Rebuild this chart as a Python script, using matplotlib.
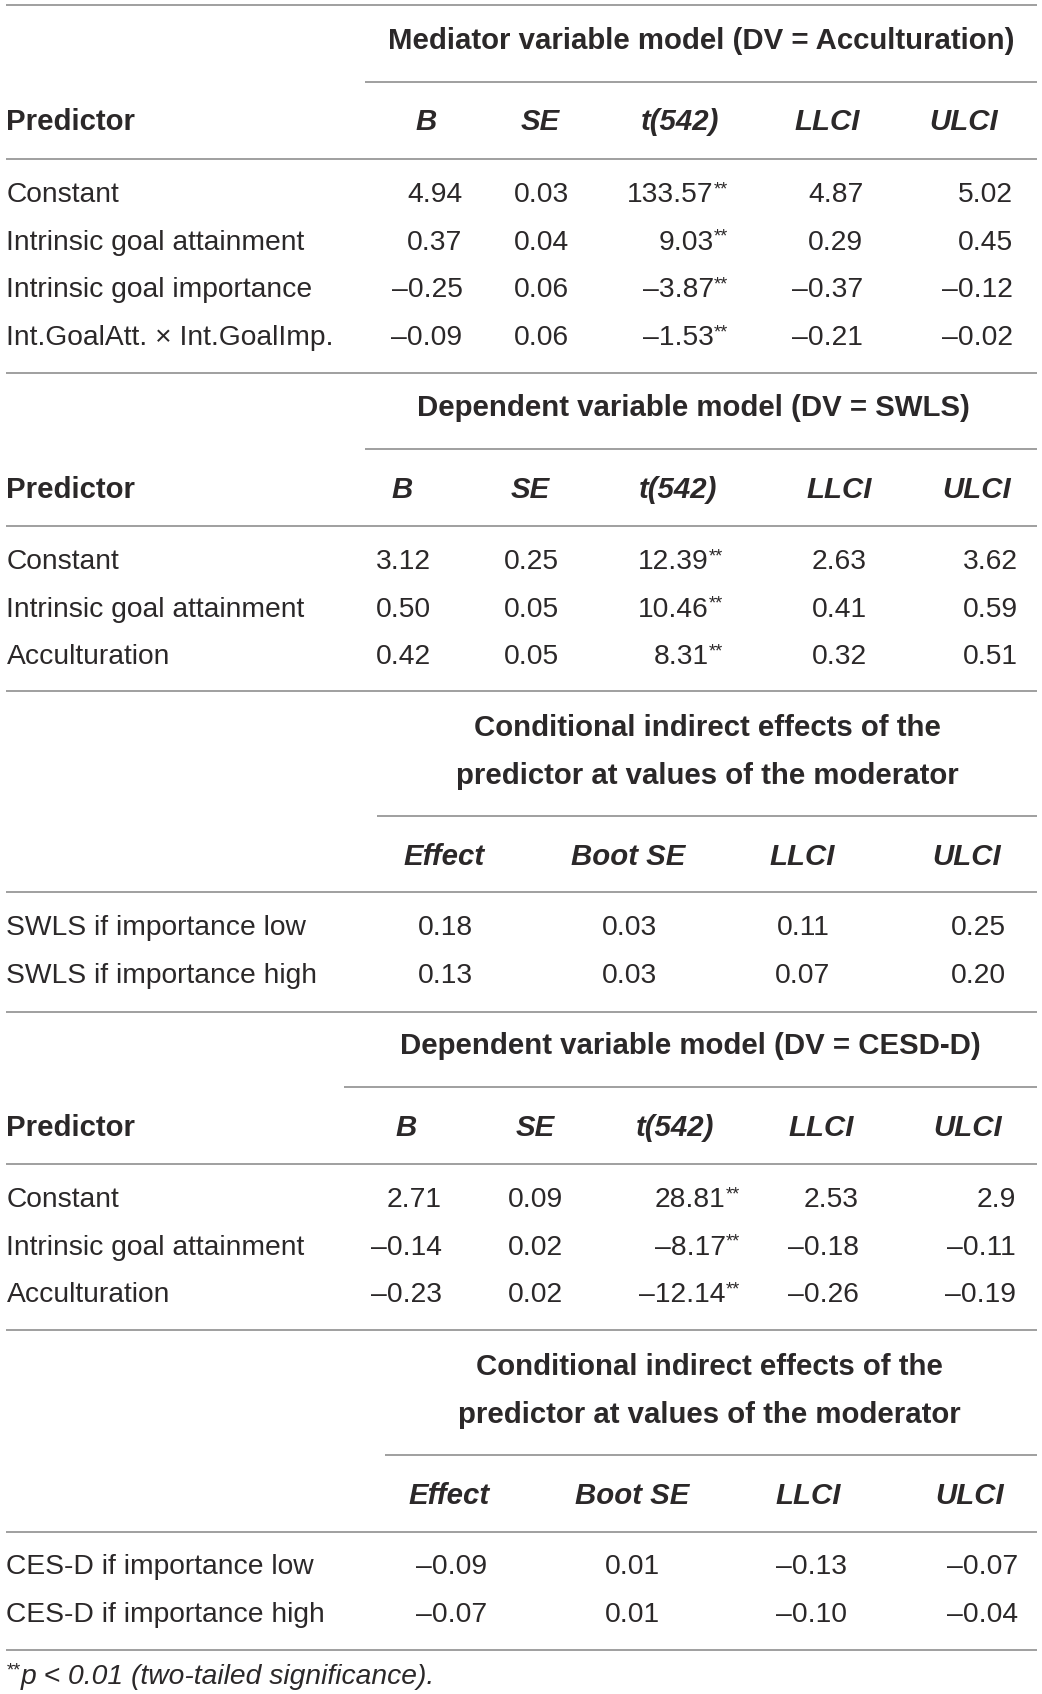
import matplotlib
matplotlib.use("Agg")
import matplotlib.pyplot as plt

plt.rcParams['font.family'] = ['Liberation Sans', 'DejaVu Sans']

# ---- table data ----
med_title = "Mediator variable model (DV = Acculturation)"
med_heads = ["B", "SE", "t(542)", "LLCI", "ULCI"]
med_rows = ["Constant", "Intrinsic goal attainment", "Intrinsic goal importance",
            "Int.GoalAtt. \u00d7 Int.GoalImp."]
med_B = ["4.94", "0.37", "\u20130.25", "\u20130.09"]
med_SE = ["0.03", "0.04", "0.06", "0.06"]
med_t = ["133.57", "9.03", "\u20133.87", "\u20131.53"]
med_LL = ["4.87", "0.29", "\u20130.37", "\u20130.21"]
med_UL = ["5.02", "0.45", "\u20130.12", "\u20130.02"]

swls_title = "Dependent variable model (DV = SWLS)"
swls_rows = ["Constant", "Intrinsic goal attainment", "Acculturation"]
swls_B = ["3.12", "0.50", "0.42"]
swls_SE = ["0.25", "0.05", "0.05"]
swls_t = ["12.39", "10.46", "8.31"]
swls_LL = ["2.63", "0.41", "0.32"]
swls_UL = ["3.62", "0.59", "0.51"]

cond_title = ["Conditional indirect effects of the", "predictor at values of the moderator"]
cond_heads = ["Effect", "Boot SE", "LLCI", "ULCI"]
cond1_rows = ["SWLS if importance low", "SWLS if importance high"]
cond1_eff = ["0.18", "0.13"]
cond1_se = ["0.03", "0.03"]
cond1_LL = ["0.11", "0.07"]
cond1_UL = ["0.25", "0.20"]

cesd_title = "Dependent variable model (DV = CESD-D)"
cesd_rows = ["Constant", "Intrinsic goal attainment", "Acculturation"]
cesd_B = ["2.71", "\u20130.14", "\u20130.23"]
cesd_SE = ["0.09", "0.02", "0.02"]
cesd_t = ["28.81", "\u20138.17", "\u201312.14"]
cesd_LL = ["2.53", "\u20130.18", "\u20130.26"]
cesd_UL = ["2.9", "\u20130.11", "\u20130.19"]

cond2_rows = ["CES-D if importance low", "CES-D if importance high"]
cond2_eff = ["\u20130.09", "\u20130.07"]
cond2_se = ["0.01", "0.01"]
cond2_LL = ["\u20130.13", "\u20130.10"]
cond2_UL = ["\u20130.07", "\u20130.04"]

footnote = "p < 0.01 (two-tailed significance)."

# ---- drawing ----
W, H = 962, 1564
fig = plt.figure(figsize=(10.42, 16.94), dpi=100)
ax = fig.add_axes([0, 0, 1, 1])
ax.set_xlim(0, W)
ax.set_ylim(H, 0)
ax.axis("off")

TXT = "#2b2829"
LN = "#8f8f8f"
FS = 20.3
FT = 21.2
XR = 957


def hline(y, x0=6):
    ax.plot([x0, XR], [y, y], color=LN, lw=1.2, solid_capstyle="butt")


def body(x, y, s, ha="right"):
    ax.text(x, y, s, fontsize=FS, color=TXT, ha=ha, va="center")


def stars(x, y):
    ax.text(x, y - 5, "**", fontsize=FS * 0.65, color=TXT, ha="left", va="center")


def title(x, y, s):
    ax.text(x, y, s, fontsize=FT, fontweight="bold", color=TXT, ha="center", va="center")


def head(x, y, s):
    ax.text(x, y, s, fontsize=FT, fontweight="bold", style="italic", color=TXT,
            ha="center", va="center")


def model_block(y0, ttl, tx, x0line, rows, cols, heads_x, right_x, t_idx):
    title(tx, y0, ttl)
    hline(y0 + 38, x0line)
    yh = y0 + 75
    ax.text(6, yh, "Predictor", fontsize=FT, fontweight="bold", color=TXT,
            ha="left", va="center")
    for hx, hs in zip(heads_x, med_heads):
        head(hx, yh, hs)
    hline(yh + 34)
    y = yh + 67
    for i, r in enumerate(rows):
        body(6, y, r, ha="left")
        for j, col in enumerate(cols):
            body(right_x[j], y, col[i])
            if j == t_idx:
                stars(right_x[j], y)
        y += 44


def cond_block(y0, tx, x0line, rows, cols, heads_x, right_x):
    title(tx, y0, cond_title[0])
    title(tx, y0 + 44, cond_title[1])
    hline(y0 + 81, x0line)
    yh = y0 + 119
    for hx, hs in zip(heads_x, cond_heads):
        head(hx, yh, hs)
    hline(yh + 33)
    y = yh + 66
    for i, r in enumerate(rows):
        body(6, y, r, ha="left")
        for j, col in enumerate(cols):
            body(right_x[j], y, col[i])
        y += 44


hline(5)
model_block(38, med_title, 647, 337, med_rows,
            [med_B, med_SE, med_t, med_LL, med_UL],
            [393, 499, 628, 764, 890], [427, 525, 659, 797, 935], 2)
hline(344)
model_block(377, swls_title, 640, 337, swls_rows,
            [swls_B, swls_SE, swls_t, swls_LL, swls_UL],
            [371, 490, 626, 775, 902], [398, 516, 654, 800, 940], 2)
hline(638)
cond_block(672, 653, 348, cond1_rows,
           [cond1_eff, cond1_se, cond1_LL, cond1_UL],
           [410, 580, 741, 892], [437, 607, 766, 929])
hline(934)
model_block(966, cesd_title, 637, 318, cesd_rows,
            [cesd_B, cesd_SE, cesd_t, cesd_LL, cesd_UL],
            [375, 494, 623, 758, 893], [408, 520, 670, 793, 938], 2)
hline(1228)
cond_block(1262, 655, 355, cond2_rows,
           [cond2_eff, cond2_se, cond2_LL, cond2_UL],
           [415, 584, 746, 895], [450, 609, 782, 940])
hline(1523)

ax.text(6, 1543, "**", fontsize=FS * 0.65, color=TXT, ha="left", va="center")
ax.text(19, 1548, footnote, fontsize=FS, style="italic",
        color=TXT, ha="left", va="center")

fig.savefig("out.png", dpi=100)
